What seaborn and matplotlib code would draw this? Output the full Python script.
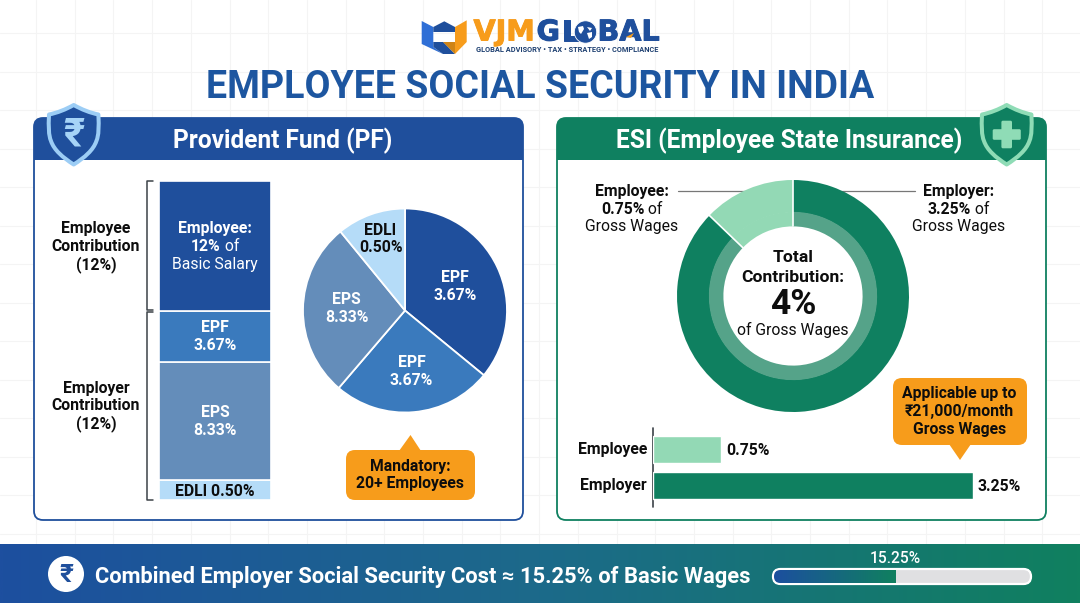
import numpy as np
import pandas as pd
import seaborn as sns
import matplotlib
matplotlib.use("Agg")
import matplotlib.pyplot as plt
import matplotlib.patheffects as pe
from matplotlib.patches import FancyBboxPatch, Polygon, Circle, PathPatch
from matplotlib.path import Path

sns.set_theme(style="white")
plt.rcParams["font.family"] = ["Roboto", "DejaVu Sans"]

# ---- data (drawn shares differ from the printed labels)
stack_segments = ["EDLI", "EPS", "EPF", "Employee"]
stack_heights = [1.85, 10.9, 4.7, 12.0]
pie_names = ["EPF", "EPF (2)", "EPS", "EDLI"]
pie_shares = [35.9, 25.3, 27.8, 10.9]
donut_names = ["Employee", "Employer"]
donut_shares = [12.8, 87.2]
hbar_names = ["Employee", "Employer"]
hbar_widths = [0.69, 3.25]
hbar_labels = ["0.75%", "3.25%"]
progress_value = 15.25
progress_max = 32.0

BLUE = "#1f4f9c"
MID = "#3a7abd"
STEEL = "#648dba"
PALE = "#b5dcf8"
GREEN = "#0f8060"
MINT = "#93d9b5"
RING = "#55a389"
ORANGE = "#f79c1b"
TITLE = "#1d56a0"
INK = "#0d0d0d"
stack_colors = [PALE, STEEL, MID, BLUE]
pie_colors = [BLUE, MID, STEEL, PALE]

W, H = 1080, 603
fig = plt.figure(figsize=(W / 100, H / 100), dpi=100, facecolor="white")


def layer(z):
    a = fig.add_axes([0, 0, 1, 1], zorder=z)
    a.set_xlim(0, W)
    a.set_ylim(H, 0)
    a.axis("off")
    a.patch.set_alpha(0)
    return a


def px_axes(x0, y0, x1, y1, z=1):
    a = fig.add_axes([x0 / W, 1 - y1 / H, (x1 - x0) / W, (y1 - y0) / H], zorder=z)
    a.patch.set_alpha(0)
    return a


bg = layer(0)
top = layer(5)

# faint paper grid
for gx in np.arange(36, W, 38.7):
    bg.plot([gx, gx], [0, H], color="#f4f4f4", lw=0.8, zorder=0)
for gy in np.arange(33, H, 38.5):
    bg.plot([0, W], [gy, gy], color="#f4f4f4", lw=0.8, zorder=0)


def rbox(a, x0, y0, x1, y1, r, fc, ec="none", lw=0, z=2):
    p = FancyBboxPatch((x0 + r, y0 + r), x1 - x0 - 2 * r, y1 - y0 - 2 * r,
                       boxstyle=f"round,pad={r},rounding_size={r}",
                       fc=fc, ec=ec, lw=lw, zorder=z)
    a.add_patch(p)
    return p


def panel(x0, x1, color, title, tcx):
    rbox(bg, x0, 118, x1, 520, 9, "white", color, 1.3, z=2)
    clip = rbox(bg, x0, 118, x1, 520, 9, color, "none", 0, z=3)
    clip_rect = plt.Rectangle((x0, 118), x1 - x0, 42, transform=bg.transData)
    clip.set_clip_path(clip_rect)
    top.text(tcx, 141, title, color="white", fontsize=17.65, fontweight="bold",
             ha="center", va="center")


panel(34, 523, BLUE, "Provident Fund (PF)", 283)
panel(557, 1046, GREEN, "ESI (Employee State Insurance)", 789.5)


def shield(cx, fc, ec):
    t, b, w = 105, 164.5, 24.7
    verts = [(cx, t),
             (cx + w * 0.5, t + 7), (cx + w, t + 9.5),
             (cx + w + 0.5, t + 22), (cx + w + 0.5, t + 30), (cx + w - 2, t + 36),
             (cx + w - 5, t + 45), (cx + 11, b - 7), (cx, b),
             (cx - 11, b - 7), (cx - w + 5, t + 45), (cx - w + 2, t + 36),
             (cx - w - 0.5, t + 30), (cx - w - 0.5, t + 22), (cx - w, t + 9.5),
             (cx - w * 0.5, t + 7), (cx, t), (cx, t)]
    codes = [Path.MOVETO, Path.CURVE3, Path.CURVE3,
             Path.CURVE4, Path.CURVE4, Path.CURVE4,
             Path.CURVE4, Path.CURVE4, Path.CURVE4,
             Path.CURVE4, Path.CURVE4, Path.CURVE4,
             Path.CURVE4, Path.CURVE4, Path.CURVE4,
             Path.CURVE3, Path.CURVE3, Path.CLOSEPOLY]
    top.add_patch(PathPatch(Path(verts, codes), fc=fc, ec=ec, lw=2.9, joinstyle="round", zorder=2))


shield(73.7, BLUE, "#9ccdf5")
top.text(73.7, 134.5, "₹", color="#a6d4f7", fontsize=29, fontweight="bold",
         ha="center", va="center", zorder=3)
shield(1006.7, GREEN, "#8fdcb6")
top.add_patch(FancyBboxPatch((1002.2, 121.5), 9, 26, boxstyle="round,pad=0.8,rounding_size=1.5",
                             fc="#8fdcb6", ec="none", zorder=3))
top.add_patch(FancyBboxPatch((993.5, 130), 26.5, 9, boxstyle="round,pad=0.8,rounding_size=1.5",
                             fc="#8fdcb6", ec="none", zorder=3))

# ---- logo
top.add_patch(Polygon([(421.7, 21), (433.3, 27), (433.3, 47), (443, 54), (421.7, 44)], fc="#2f6fd6", ec="none"))
top.add_patch(Polygon([(433.3, 42), (443.3, 42), (455, 54), (443, 54), (433.3, 47)], fc="#1f4f9c", ec="none"))
top.add_patch(Polygon([(433.3, 27), (444.3, 21.3), (455, 27), (455, 32), (433.3, 32)], fc="#1f4f9c", ec="none"))
top.add_patch(Polygon([(466.7, 20.3), (466.7, 42), (455, 54), (455, 27)], fc=ORANGE, ec="none"))
top.add_patch(Polygon([(443.3, 42), (455, 42), (455, 54)], fc="#cf8416", ec="none"))
LOGO = dict(fontsize=20.6, fontweight="bold", family="DejaVu Sans", va="center", ha="left")


def logo_text(x, s, color):
    t = top.text(x, 32.5, s, color=color, **LOGO)
    t.set_path_effects([pe.withStroke(linewidth=0.7, foreground=color)])


logo_text(473.5, "VJM", ORANGE)
logo_text(536.5, "G", BLUE)
logo_text(561.5, "L", BLUE)
top.add_patch(Circle((585.5, 32), 11.2, fc=BLUE, ec="white", lw=0.6, zorder=4))
top.add_patch(Polygon([(578, 27), (583, 26), (584, 29), (581, 34), (579, 32)], fc="white", ec="none", zorder=5))
top.add_patch(Polygon([(587, 27), (592, 28), (590, 31)], fc="white", ec="none", zorder=5))
top.add_patch(Polygon([(587, 33), (592, 32), (592, 37), (589, 39)], fc="white", ec="none", zorder=5))
logo_text(597.5, "BAL", BLUE)
top.add_patch(Polygon([(626, 37), (634, 33), (631, 38)], fc=ORANGE, ec="none", zorder=6))
top.text(476, 50, "GLOBAL ADVISORY • TAX • STRATEGY • COMPLIANCE", color="#1d3f70",
         fontsize=5.35, fontweight="bold", va="center", ha="left")

top.text(540, 88, "EMPLOYEE SOCIAL SECURITY IN INDIA", color=TITLE, fontsize=27,
         fontweight="bold", ha="center", va="center")


def mixed(cx, cy, parts, size=11.3, color=INK):
    """One centred line made of several (text, weight) runs."""
    r = fig.canvas.get_renderer()
    arts = [top.text(0, cy, s, fontsize=size, fontweight=w, color=color, va="center", ha="left")
            for s, w in parts]
    widths = [a.get_window_extent(r).width for a in arts]
    x = cx - sum(widths) / 2
    for a, w in zip(arts, widths):
        a.set_x(x)
        x += w


def lines(cx, cy, rows, step=17.7, size=11.3, color=INK):
    y0 = cy - step * (len(rows) - 1) / 2
    for i, row in enumerate(rows):
        mixed(cx, y0 + i * step, row, size=size, color=color)


B, R = "bold", "normal"

# ---- PF stacked bar
ax = px_axes(159, 181, 271, 500)
base = 0.0
for name, h, c in zip(stack_segments, stack_heights, stack_colors):
    sns.barplot(x=["PF"], y=[h], bottom=base, color=c, saturation=1, width=1,
                edgecolor="white", linewidth=1.2, ax=ax)
    base += h
ax.set_xlim(-0.5, 0.5)
ax.set_ylim(0, sum(stack_heights))
ax.axis("off")

for y0, y1 in [(181, 310), (312, 500)]:
    bg.plot([153, 147, 147, 153], [y0, y0, y1, y1], color="#3c4248", lw=1.1, zorder=4)

lines(96, 246.5, [[("Employee", B)], [("Contribution", B)], [("(12%)", B)]])
lines(96, 406, [[("Employer", B)], [("Contribution", B)], [("(12%)", B)]])
lines(215, 246.5, [[("Employee:", B)], [("12%", B), (" of", R)], [("Basic Salary", R)]], color="white")
lines(215, 336.5, [[("EPF", B)], [("3.67%", B)]], color="white")
lines(215, 421.5, [[("EPS", B)], [("8.33%", B)]], color="white")
lines(215, 491, [[("EDLI 0.50%", B)]])

# ---- PF pie
ax = px_axes(303, 208.5, 507, 412.5)
ax.pie(pie_shares, colors=pie_colors, startangle=90, counterclock=False, radius=1,
       wedgeprops=dict(edgecolor="white", linewidth=1.3))
ax.set_xlim(-1, 1)
ax.set_ylim(-1, 1)
lines(455, 286.5, [[("EPF", B)], [("3.67%", B)]], color="white")
lines(411.5, 371.5, [[("EPF", B)], [("3.67%", B)]], color="white")
lines(346.5, 308.5, [[("EPS", B)], [("8.33%", B)]], color="white")
lines(380.5, 239, [[("EDLI", B)], [("0.50%", B)]])

# callouts
rbox(top, 346, 450, 475, 500, 9, ORANGE, z=1)
top.add_patch(Polygon([(399, 451), (410.5, 435), (421, 451)], fc=ORANGE, ec="none", zorder=1))
lines(410.5, 475, [[("Mandatory:", B)], [("20+ Employees", B)]])
rbox(top, 893, 378, 1027, 445, 9, ORANGE, z=1)
top.add_patch(Polygon([(949, 444), (960, 460), (971, 444)], fc=ORANGE, ec="none", zorder=1))
lines(959.5, 411.5, [[("Applicable up to", B)], [("₹21,000/month", B)], [("Gross Wages", B)]])

# ---- ESI donut
ax = px_axes(677, 180, 909, 412)
ax.pie(donut_shares, colors=[MINT, GREEN], startangle=90, radius=1,
       wedgeprops=dict(width=0.28, linewidth=0))
ax.pie(donut_shares, colors=[MINT, RING], startangle=90, radius=0.725,
       wedgeprops=dict(width=0.125, linewidth=0))
angle = np.deg2rad(90 + 360 * donut_shares[0] / sum(donut_shares))
for th in (np.deg2rad(90), angle):
    ax.plot([0.6 * np.cos(th), np.cos(th)], [0.6 * np.sin(th), np.sin(th)], color="white", lw=1.2)
ax.set_xlim(-1, 1)
ax.set_ylim(-1, 1)

bg.plot([678, 748], [191, 191], color="#777777", lw=0.9, zorder=4)
bg.plot([840, 915], [191, 191], color="#777777", lw=0.9, zorder=4)
lines(632, 209, [[("Employee:", B)], [("0.75%", B), (" of", R)], [("Gross Wages", R)]])
lines(958.5, 209, [[("Employer:", B)], [("3.25%", B), (" of", R)], [("Gross Wages", R)]])
top.text(793, 258, "Total", fontsize=12.6, fontweight="bold", color=INK, ha="center", va="center")
top.text(793, 277.5, "Contribution:", fontsize=12.6, fontweight="bold", color=INK, ha="center", va="center")
top.text(793, 305, "4%", fontsize=25.5, fontweight="bold", color=INK, ha="center", va="center")
top.text(793, 329.5, "of Gross Wages", fontsize=11.3, color=INK, ha="center", va="center")

# ---- ESI horizontal bars
ax = px_axes(653, 428, 973, 507)
hdf = pd.DataFrame({"who": hbar_names, "width": hbar_widths})
sns.barplot(data=hdf, x="width", y="who", hue="who", palette=[MINT, GREEN], saturation=1,
            width=0.75, legend=False, ax=ax)
ax.set_xlim(0, max(hbar_widths))
ax.set_ylim(1.6, -0.6)
ax.axis("off")
bg.plot([653, 653], [428, 507], color="#3c4248", lw=1.2, zorder=4)
for who, w, lab, yy in zip(hbar_names, hbar_widths, hbar_labels, [449.5, 485.5]):
    top.text(647, yy, who, fontsize=11.3, fontweight="bold", color=INK, ha="right", va="center")
    top.text(653 + 320 * w / max(hbar_widths) + 5, yy + 1, lab, fontsize=11.3, fontweight="bold",
             color=INK, ha="left", va="center")

# ---- bottom band
grad = np.linspace(0, 1, 512)[None, :]
cmap = matplotlib.colors.LinearSegmentedColormap.from_list("band", ["#1d4f9f", "#1c6a8a", "#10805f"])
bg.imshow(grad, extent=(0, W, 603, 544), cmap=cmap, aspect="auto", zorder=5)
bg.set_xlim(0, W)
bg.set_ylim(H, 0)
top.add_patch(Circle((66, 574), 18, fc="white", ec="none"))
top.text(66, 574.5, "₹", color=BLUE, fontsize=19, fontweight="bold", ha="center", va="center")
top.text(95, 576.5, "Combined Employer Social Security Cost ≈ 15.25% of Basic Wages", color="white",
         fontsize=15.78, fontweight="bold", ha="left", va="center")

# progress bar
x0, x1 = 773, 1031
rbox(top, x0, 569, x1, 584, 7.5, "#e0e0e2", "white", 1.6, z=1)
fx1 = x0 + (x1 - x0) * progress_value / progress_max
fill = top.imshow(grad, extent=(x0 + 1, fx1, 583, 570), aspect="auto", zorder=2,
                  cmap=matplotlib.colors.LinearSegmentedColormap.from_list("f", ["#1c4f9f", "#10805f"]))
clip_box = FancyBboxPatch((x0 + 7.5, 576.5), x1 - x0 - 15, 0, boxstyle="round,pad=6.5,rounding_size=6.5",
                          transform=top.transData, fc="none", ec="none")
top.add_patch(clip_box)
fill.set_clip_path(clip_box)
top.set_xlim(0, W)
top.set_ylim(H, 0)
top.text(895.5, 558.5, "15.25%", color="white", fontsize=11.2, fontweight="medium", ha="center", va="center")

fig.savefig("out.png", dpi=100)
